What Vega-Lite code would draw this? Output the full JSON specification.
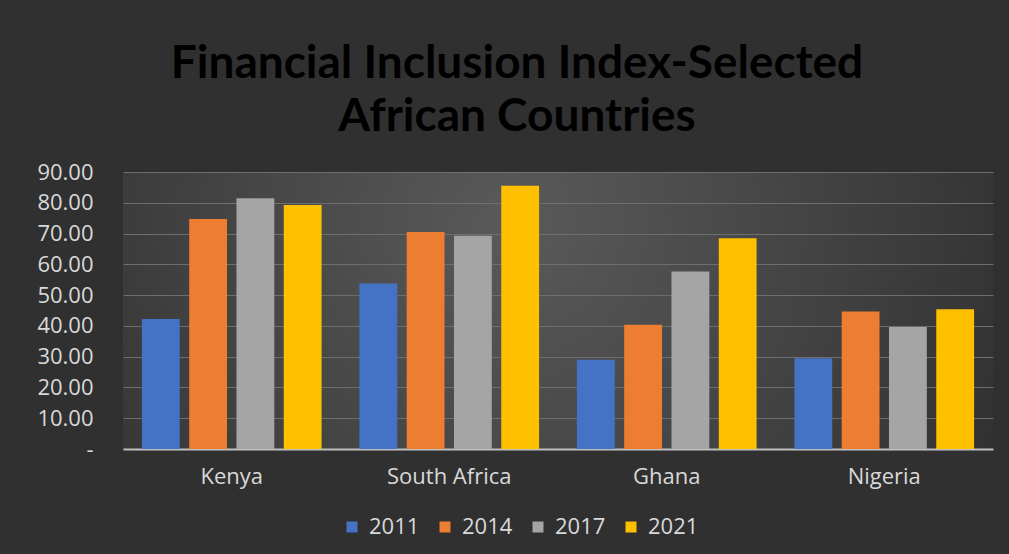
{
  "$schema": "https://vega.github.io/schema/vega-lite/v6.json",
  "width": 870,
  "height": 277,
  "autosize": {"type": "none"},
  "padding": {"left": 123, "top": 172, "right": 16, "bottom": 105},
  "background": "#303030",
  "config": {
    "font": "Open Sans",
    "view": {
      "stroke": null,
      "fill": {
        "gradient": "radial",
        "x1": 0.45, "y1": 0.4, "r1": 0,
        "x2": 0.45, "y2": 0.4, "r2": 0.6,
        "stops": [
          {"offset": 0, "color": "#5a5a5a"},
          {"offset": 1, "color": "#323232"}
        ]
      }
    }
  },
  "title": {
    "text": ["Financial Inclusion Index-Selected", "African Countries"],
    "font": "Lato",
    "fontSize": 46,
    "fontWeight": "bold",
    "color": "#000000",
    "anchor": "middle",
    "dx": -41,
    "offset": 20,
    "lineHeight": 53
  },
  "data": {
    "values": [
      {"country": "Kenya", "year": "2011", "value": 42.2},
      {"country": "Kenya", "year": "2014", "value": 74.7},
      {"country": "Kenya", "year": "2017", "value": 81.5},
      {"country": "Kenya", "year": "2021", "value": 79.3},
      {"country": "South Africa", "year": "2011", "value": 53.8},
      {"country": "South Africa", "year": "2014", "value": 70.5},
      {"country": "South Africa", "year": "2017", "value": 69.3},
      {"country": "South Africa", "year": "2021", "value": 85.5},
      {"country": "Ghana", "year": "2011", "value": 29.0},
      {"country": "Ghana", "year": "2014", "value": 40.4},
      {"country": "Ghana", "year": "2017", "value": 57.7},
      {"country": "Ghana", "year": "2021", "value": 68.5},
      {"country": "Nigeria", "year": "2011", "value": 29.5},
      {"country": "Nigeria", "year": "2014", "value": 44.7},
      {"country": "Nigeria", "year": "2017", "value": 39.6},
      {"country": "Nigeria", "year": "2021", "value": 45.4}
    ]
  },
  "mark": {"type": "bar"},
  "encoding": {
    "x": {
      "field": "country",
      "type": "nominal",
      "sort": null,
      "scale": {"paddingInner": 0, "paddingOuter": 0},
      "axis": {
        "title": null,
        "labelAngle": 0,
        "labelFontSize": 22,
        "labelColor": "#d9d9d9",
        "labelPadding": 17,
        "ticks": false,
        "domainColor": "#bfbfbf",
        "domainWidth": 2
      }
    },
    "xOffset": {
      "field": "year",
      "type": "nominal",
      "scale": {"paddingInner": 0.2, "paddingOuter": 0.4}
    },
    "y": {
      "field": "value",
      "type": "quantitative",
      "scale": {"domain": [0, 90], "nice": false},
      "axis": {
        "title": null,
        "values": [0, 10, 20, 30, 40, 50, 60, 70, 80, 90],
        "labelExpr": "datum.value == 0 ? '-' : format(datum.value, '.2f')",
        "labelFontSize": 22,
        "labelColor": "#d9d9d9",
        "labelPadding": 30,
        "ticks": false,
        "domain": false,
        "gridColor": "#6e6e6e",
        "gridWidth": 1
      }
    },
    "color": {
      "field": "year",
      "type": "nominal",
      "scale": {
        "domain": ["2011", "2014", "2017", "2021"],
        "range": ["#4472C4", "#ED7D31", "#A5A5A5", "#FFC000"]
      },
      "legend": {
        "title": null,
        "orient": "none",
        "legendX": 218,
        "legendY": 344,
        "direction": "horizontal",
        "symbolType": "square",
        "symbolSize": 121,
        "symbolStrokeWidth": 0,
        "labelFontSize": 22,
        "labelColor": "#d9d9d9",
        "labelOffset": 6,
        "columnPadding": 14
      }
    }
  }
}
